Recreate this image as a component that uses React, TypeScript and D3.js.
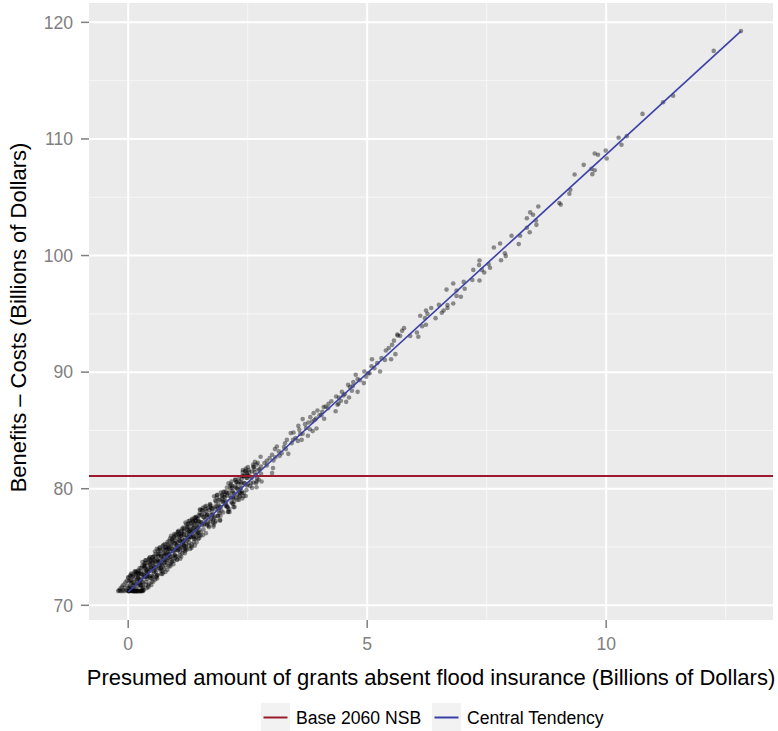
import React from "react";
import * as d3 from "d3";

// ---- data ----
const xTicks = [0, 5, 10];
const xMinor = [2.5, 7.5, 12.5];
const yTicks = [70, 80, 90, 100, 110, 120];
const yMinor = [75, 85, 95, 105, 115];
const xDomain = [-0.82, 13.49];
const yDomain = [68.74, 121.66];
const baseNSB = 81.1;
const centralX = [0, 12.82];
const centralY = [71.15, 119.25];
const legendLabels = ["Base 2060 NSB", "Central Tendency"];
const xTitle = "Presumed amount of grants absent flood insurance (Billions of Dollars)";
const yTitle = "Benefits \u2013 Costs (Billions of Dollars)";

// simulated draws near zero grants: [grants, net benefit]
const lowDraws: [number, number][] = [
  [-0.21,71.22],[-0.19,71.3],[-0.17,71.24],[-0.16,71.45],[-0.14,71.21],[-0.13,71.6],[-0.11,71.28],[-0.1,71.75],
  [-0.08,71.22],[-0.07,71.5],[-0.06,71.95],[-0.04,71.3],[-0.03,72.1],[-0.02,71.7],[-0.01,71.23],[0.0,72.4],
  [0.26,71.22],[0.28,71.25],[0.3,71.21],[0.32,71.3],[0.2,71.24],
  [0.005,72.35],[0.01,71.2],[0.015,71.45],[0.02,72.05],[0.025,71.22],[0.03,71.65],[0.035,71.25],[0.04,72.55],[0.045,71.3],
  [0.09,71.21],[0.065,72.14],[0.08,71.23],[0.055,71.54],[0.095,72.44],[0.07,71.26],[0.06,71.94],[0.085,71.28],[0.075,72.64],
  [0.125,72.23],[0.145,71.2],[0.105,72.53],[0.135,71.23],[0.115,71.93],[0.14,72.83],[0.12,71.22],[0.11,71.63],[0.13,71.25],
  [0.16,71.81],[0.185,72.81],[0.17,71.21],[0.195,72.31],[0.18,71.2],[0.155,72.61],[0.19,72.01],[0.175,71.41],[0.165,72.91],
  [0.23,71.2],[0.22,72.3],[0.24,73.2],[0.21,71.7],[0.235,72.7],[0.225,71.22],[0.245,71.9],[0.215,72.9],[0.205,72.4],
  [0.255,71.69],[0.26,72.89],[0.265,71.21],[0.27,72.29],[0.275,73.19],[0.28,71.49],[0.285,72.69],[0.29,71.99],[0.295,73.39],
  [0.325,72.38],[0.345,73.38],[0.305,71.68],[0.335,72.88],[0.315,71.28],[0.34,73.18],[0.32,72.58],[0.31,71.98],[0.33,73.48],
  [0.38,73.66],[0.37,71.76],[0.39,72.76],[0.36,73.36],[0.385,71.46],[0.375,72.96],[0.395,72.26],[0.365,73.86],[0.355,72.46],
  [0.44,71.85],[0.415,73.05],[0.43,73.95],[0.405,72.45],[0.445,73.45],[0.42,71.55],[0.41,72.65],[0.435,73.65],[0.425,73.15],
  [0.46,73.54],[0.485,71.74],[0.47,73.84],[0.495,72.54],[0.48,73.24],[0.455,74.14],[0.49,72.04],[0.475,72.94],[0.465,72.34],
  [0.505,73.13],[0.51,74.13],[0.515,72.43],[0.52,73.63],[0.525,72.03],[0.53,73.93],[0.535,73.33],[0.54,72.73],[0.545,74.23],
  [0.575,74.41],[0.595,72.51],[0.555,73.51],[0.585,74.11],[0.565,72.21],[0.59,73.71],[0.57,73.01],[0.56,74.61],[0.58,73.21],
  [0.61,72.6],[0.635,73.8],[0.62,74.7],[0.645,73.2],[0.63,74.2],[0.605,72.3],[0.64,73.4],[0.625,74.4],[0.615,73.9],
  [0.68,73.19],[0.67,74.39],[0.69,72.69],[0.66,73.79],[0.685,74.69],[0.675,72.99],[0.695,74.19],[0.665,73.49],[0.655,74.89],
  [0.74,74.48],[0.715,72.68],[0.73,74.78],[0.705,73.48],[0.745,74.18],[0.72,75.08],[0.71,72.98],[0.735,73.88],[0.725,73.28],
  [0.755,73.16],[0.76,74.36],[0.765,75.26],[0.77,73.76],[0.775,74.76],[0.78,72.86],[0.785,73.96],[0.79,74.96],[0.795,74.46],
  [0.83,74.85],[0.82,73.05],[0.84,75.15],[0.81,73.85],[0.835,74.55],[0.825,75.45],[0.845,73.35],[0.815,74.25],[0.805,73.65],
  [0.86,75.54],[0.885,73.64],[0.87,74.64],[0.895,75.24],[0.88,73.34],[0.855,74.84],[0.89,74.14],[0.875,75.74],[0.865,74.34],
  [0.94,74.63],[0.915,75.63],[0.93,73.93],[0.905,75.13],[0.945,73.53],[0.92,75.43],[0.91,74.83],[0.935,74.23],[0.925,75.73],
  [0.975,74.31],[0.995,75.51],[0.955,73.81],[0.985,74.91],[0.965,75.81],[0.99,74.11],[0.97,75.31],[0.96,74.61],[0.98,76.01],
  [1.005,76.1],[1.01,74.2],[1.015,75.2],[1.02,75.8],[1.025,73.9],[1.03,75.4],[1.035,74.7],[1.04,76.3],[1.045,74.9],
  [1.075,74.29],[1.095,75.49],[1.055,76.39],[1.085,74.89],[1.065,75.89],[1.09,73.99],[1.07,75.09],[1.06,76.09],[1.08,75.59],
  [1.105,75.98],[1.11,74.18],[1.115,76.28],[1.12,74.98],[1.125,75.68],[1.13,76.58],[1.135,74.48],[1.14,75.38],[1.145,74.78],
  [1.18,75.56],[1.17,76.56],[1.19,74.86],[1.16,76.06],[1.185,74.46],[1.175,76.36],[1.195,75.76],[1.165,75.16],[1.155,76.66],
  [1.21,75.25],[1.235,76.45],[1.22,74.75],[1.245,75.85],[1.23,76.75],[1.205,75.05],[1.24,76.25],[1.225,75.55],[1.215,76.95],
  [1.29,77.04],[1.265,75.14],[1.28,76.14],[1.255,76.74],[1.295,74.84],[1.27,76.34],[1.26,75.64],[1.285,77.24],[1.275,75.84],
  [1.33,75.23],[1.32,76.43],[1.34,77.33],[1.31,75.83],[1.335,76.83],[1.325,74.93],[1.345,76.03],[1.315,77.03],[1.305,76.53],
  [1.375,76.92],[1.395,75.12],[1.355,77.22],[1.385,75.92],[1.365,76.62],[1.39,77.52],[1.37,75.42],[1.36,76.32],[1.38,75.72],
  [1.41,76.5],[1.435,77.5],[1.42,75.8],[1.445,77.0],[1.43,75.4],[1.405,77.3],[1.44,76.7],[1.425,76.1],[1.415,77.6],
  [1.455,76.19],[1.46,77.39],[1.465,75.69],[1.47,76.79],[1.475,77.69],[1.48,75.99],[1.485,77.19],[1.49,76.49],[1.495,77.89]
];

// a second batch of draws in the dense band
const lowDraws2: [number, number][] = [
  [0.0875,71.93],[0.0125,71.22],[0.05,72.49],[0.0975,71.37],[0.0375,72.14],[0.075,71.24],[0.025,71.49],[0.0625,72.73],
  [0.15,71.37],[0.1975,72.55],[0.125,71.21],[0.1625,72.71],[0.1125,71.73],[0.1875,71.21],[0.1375,72.92],[0.175,72.16],
  [0.2125,73.0],[0.2375,71.79],[0.2625,72.68],[0.2875,71.28],[0.225,72.74],[0.25,72.14],[0.275,71.73],[0.2975,73.72],
  [0.3875,73.06],[0.3125,71.48],[0.35,73.62],[0.3975,72.5],[0.3375,73.27],[0.375,72.01],[0.325,72.62],[0.3625,73.86],
  [0.45,72.49],[0.4975,73.67],[0.425,71.69],[0.4625,73.83],[0.4125,72.85],[0.4875,72.33],[0.4375,74.04],[0.475,73.28],
  [0.5125,74.13],[0.5375,72.92],[0.5625,73.81],[0.5875,72.41],[0.525,73.87],[0.55,73.27],[0.575,72.86],[0.5975,74.85],
  [0.6875,74.18],[0.6125,72.6],[0.65,74.74],[0.6975,73.62],[0.6375,74.39],[0.675,73.13],[0.625,73.74],[0.6625,74.98],
  [0.75,73.62],[0.7975,74.8],[0.725,72.82],[0.7625,74.96],[0.7125,73.98],[0.7875,73.46],[0.7375,75.17],[0.775,74.41],
  [0.8125,75.25],[0.8375,74.04],[0.8625,74.93],[0.8875,73.53],[0.825,74.99],[0.85,74.39],[0.875,73.98],[0.8975,75.97],
  [0.9875,75.31],[0.9125,73.73],[0.95,75.87],[0.9975,74.75],[0.9375,75.52],[0.975,74.26],[0.925,74.87],[0.9625,76.11],
  [1.05,74.74],[1.0975,75.92],[1.025,73.94],[1.0625,76.08],[1.0125,75.1],[1.0875,74.58],[1.0375,76.29],[1.075,75.53],
  [1.1125,76.38],[1.1375,75.17],[1.1625,76.06],[1.1875,74.66],[1.125,76.12],[1.15,75.52],[1.175,75.11],[1.1975,77.1],
  [1.2875,76.43],[1.2125,74.85],[1.25,76.99],[1.2975,75.87],[1.2375,76.64],[1.275,75.38],[1.225,75.99],[1.2625,77.23],
  [1.35,75.87],[1.3975,77.05],[1.325,75.07],[1.3625,77.21],[1.3125,76.23],[1.3875,75.71],[1.3375,77.42],[1.375,76.66],
  [1.4125,77.5],[1.4375,76.29],[1.4625,77.18],[1.4875,75.78],[1.425,77.24],[1.45,76.64],[1.475,76.23],[1.4975,78.22],
  [1.5875,77.56],[1.5125,75.98],[1.55,78.12],[1.5975,77.0],[1.5375,77.77],[1.575,76.51],[1.525,77.12],[1.5625,78.36],
  [1.65,76.99],[1.6975,78.17],[1.625,76.19],[1.6625,78.33],[1.6125,77.35],[1.6875,76.83],[1.6375,78.54],[1.675,77.78],
  [1.7125,78.63],[1.7375,77.42],[1.7625,78.31],[1.7875,76.91],[1.725,78.37],[1.75,77.77],[1.775,77.36],[1.7975,79.35],
  [1.8875,78.68],[1.8125,77.1],[1.85,79.24],[1.8975,78.12],[1.8375,78.89],[1.875,77.63],[1.825,78.24],[1.8625,79.48],
  [1.95,78.12],[1.9975,79.3],[1.925,77.32],[1.9625,79.46],[1.9125,78.48],[1.9875,77.96],[1.9375,79.67],[1.975,78.91],
  [2.0125,79.75],[2.0375,78.54],[2.0625,79.43],[2.0875,78.03],[2.025,79.49],[2.05,78.89],[2.075,78.48],[2.0975,80.47],
  [2.1875,79.81],[2.1125,78.23],[2.15,80.37],[2.1975,79.25],[2.1375,80.02],[2.175,78.76],[2.125,79.37],[2.1625,80.61],
  [2.25,79.24],[2.2975,80.42],[2.225,78.44],[2.2625,80.58],[2.2125,79.6],[2.2875,79.08],[2.2375,80.79],[2.275,80.03],
  [2.3125,80.88],[2.3375,79.67],[2.3625,80.56],[2.3875,79.16],[2.325,80.62],[2.35,80.02],[2.375,79.61],[2.3975,81.6],
  [2.4875,80.93],[2.4125,79.35],[2.45,81.49],[2.4975,80.37],[2.4375,81.14],[2.475,79.88],[2.425,80.49],[2.4625,81.73]
];

const midDraws: [number, number][] = [
  [1.51,77.72],[1.52,76.26],[1.535,77.11],[1.55,78.17],[1.56,76.01],[1.575,77.56],[1.585,76.9],[1.595,77.84],
  [1.67,77.11],[1.62,78.23],[1.69,76.69],[1.64,77.7],[1.605,78.47],[1.655,76.86],[1.68,77.55],[1.63,78.06],
  [1.745,78.3],[1.785,76.75],[1.715,78.69],[1.765,77.77],[1.795,77.49],[1.725,78.52],[1.75,78.02],[1.775,77.11],
  [1.81,77.64],[1.82,78.98],[1.835,77.23],[1.85,78.49],[1.86,79.43],[1.875,77.68],[1.885,78.32],[1.895,79.06],
  [1.97,79.14],[1.92,77.26],[1.99,79.72],[1.94,78.43],[1.905,77.9],[1.955,79.39],[1.98,78.88],[1.93,77.69],
  [2.045,79.72],[2.085,78.37],[2.015,78.91],[2.065,80.09],[2.095,78.01],[2.025,79.24],[2.05,78.64],[2.075,79.63],
  [2.11,79.67],[2.12,78.01],[2.135,80.26],[2.15,79.22],[2.16,78.86],[2.175,80.21],[2.185,79.65],[2.195,78.69],
  [2.27,80.56],[2.22,78.88],[2.29,79.94],[2.24,80.75],[2.205,78.42],[2.255,80.11],[2.28,79.5],[2.23,80.21],
  [2.345,79.65],[2.385,81.1],[2.315,79.04],[2.365,80.42],[2.395,81.44],[2.325,79.37],[2.35,80.07],[2.375,80.86],
  [2.41,81.09],[2.42,79.63],[2.435,80.48],[2.45,81.54],[2.46,79.38],[2.475,80.93],[2.485,80.27],[2.495,81.21],
  [2.57,80.49],[2.52,81.61],[2.59,80.07],[2.54,81.08],[2.505,81.85],[2.555,80.24],[2.58,80.93],[2.53,81.44],
  [2.645,81.68],[2.685,80.13],[2.615,82.07],[2.665,81.15],[2.695,80.87],[2.625,81.9],[2.65,81.4],[2.675,80.49],
  [2.71,82.22],[2.73,80.79],[2.75,81.67],[2.77,82.74],[2.79,80.62],
  [2.69,80.62],[2.62,80.53],[2.34,79.33],[2.17,80.05],[2.38,79.76],[1.92,79.05],[1.82,78.47],[2.06,78.47],
  [2.2,79.19],[1.65,77.76],[1.72,77.19],[1.51,78.19],[1.54,76.9]
];

const highDraws: [number, number][] = [
  [2.41,81.05],[2.48,81.34],[2.59,81.48],[2.62,81.85],[2.69,82.07],[2.73,81.62],[2.78,81.9],[2.78,81.28],
  [2.85,82.2],[2.9,82.39],[2.96,82.62],[3.01,82.91],[3.01,81.34],[3.03,81.77],[3.04,82.42],[3.07,83.4],
  [3.11,83.62],[3.17,82.82],[3.21,83.05],[3.26,83.57],[3.32,84.19],[3.35,82.99],[3.4,84.77],[3.42,83.91],
  [3.46,84.82],[3.5,84.34],[3.56,85.39],[3.58,85.05],[3.63,84.19],[3.65,84.71],[3.65,85.97],[3.7,85.54],
  [3.76,84.54],[3.77,85.68],[3.81,86.14],[3.85,85.76],[3.86,84.94],[3.88,86.48],[3.93,86.02],[3.94,85.16],
  [3.96,86.71],[4.04,86.31],[4.06,86.6],[4.09,87.0],[4.13,87.05],[4.19,87.28],[4.34,86.65],[4.35,87.91],
  [4.38,87.2],[4.41,87.82],[4.45,87.54],[4.47,88.31],[4.53,88.11],[4.56,87.45],[4.6,88.91],[4.62,87.82],
  [4.64,88.71],[4.71,89.14],[4.76,89.77],[4.8,89.4],[4.8,88.31],[4.93,89.06],[4.94,90.05],[5.02,89.91],
  [5.09,90.51],[5.1,91.11],[5.15,90.34],[5.21,90.77],[5.27,90.05],[5.37,91.05],[5.39,91.85],[5.45,92.06],
  [5.5,91.11],[5.52,92.34],[5.56,92.7],[5.59,91.54],[5.64,93.14],
  [3.15,83.2],[3.28,83.9],[3.45,84.2],[3.6,84.7],[3.72,85.2],[3.9,85.9],[4.0,86.3],[4.18,86.9],
  [4.25,87.5],[4.5,88.0],[4.68,88.4],[4.85,89.3],[5.05,89.9],[5.3,91.2],[2.5,81.1],[2.65,82.3],
  [2.9,82.0],[3.08,82.7],[3.3,83.4],[3.55,84.1],[3.8,85.1],[4.1,86.0],[4.4,87.3],[4.7,88.8],[4.98,89.6],
  [5.63,93.23],[5.69,93.11],[5.73,93.54],[5.77,93.77],[5.9,93.1],[6.04,93.4],[6.07,93.03],[6.11,94.83],
  [6.15,93.94],[6.21,94.63],[6.23,94.06],[6.23,95.28],[6.26,95.0],[6.34,95.5],[6.43,94.63],[6.5,95.77],
  [6.56,95.09],[6.6,95.28],[6.66,97.08],[6.68,95.75],[6.68,95.5],[6.8,97.6],[6.8,95.88],[6.87,97.0],
  [6.87,96.54],[6.96,96.46],[7.02,97.74],[7.04,97.15],[7.2,97.9],[7.22,98.77],[7.34,99.18],[7.35,99.57],
  [7.35,97.86],[7.4,98.77],[7.45,98.54],[7.54,99.26],[7.57,98.95],[7.65,100.69],[7.78,101.03],[7.8,99.6],
  [7.88,100.2],[7.9,99.95],[8.02,101.7],[8.17,100.98],[8.2,101.7],[8.34,103.2],[8.34,102.38],[8.4,102.0],
  [8.41,103.7],[8.47,103.5],[8.53,103.0],[8.54,102.63],[8.58,104.2],
  [9.02,104.5],[9.05,104.37],[9.23,105.3],[9.25,105.64],[9.34,106.95],[9.53,107.78],[9.69,107.43],
  [9.71,106.98],[9.76,107.32],[9.76,108.75],[9.83,108.64],[9.99,109.0],[10.01,108.32],[10.26,110.1],
  [10.32,109.5],[10.43,110.24],[10.76,112.15],[11.19,113.15],[11.4,113.7],[12.25,117.55],[12.82,119.25]
];

const W = 778;
const H = 731;
const panel = { left: 89, right: 773, top: 3, bottom: 620 };
const FONT = "'Liberation Sans', Arial, Helvetica, sans-serif";
const RED = "#9B1B2C";
const BLUE = "#3A41A6";

export default function App() {
  React.useEffect(() => {
    document.body.style.margin = "0";
  }, []);
  const x = d3.scaleLinear().domain(xDomain).range([panel.left, panel.right]);
  const y = d3.scaleLinear().domain(yDomain).range([panel.bottom, panel.top]);
  const line = d3
    .line<number>()
    .x((d) => x(centralX[d]))
    .y((d) => y(centralY[d]));
  const allDraws = [...lowDraws, ...lowDraws2, ...midDraws, ...highDraws];
  const cx = (panel.left + panel.right) / 2;
  const cy = (panel.top + panel.bottom) / 2;
  const legendKeyX = [261, 432];
  const legendColors = [RED, BLUE];

  return (
    <svg width={W} height={H} style={{ display: "block", background: "#fff" }} fontFamily={FONT}>
      <rect x={panel.left} y={panel.top} width={panel.right - panel.left} height={panel.bottom - panel.top} fill="#EBEBEB" />
      <g>
        {xMinor.map((t) => (
          <line key={"xm" + t} x1={x(t)} x2={x(t)} y1={panel.top} y2={panel.bottom} stroke="#F7F7F7" strokeWidth={1} />
        ))}
        {yMinor.map((t) => (
          <line key={"ym" + t} y1={y(t)} y2={y(t)} x1={panel.left} x2={panel.right} stroke="#F7F7F7" strokeWidth={1} />
        ))}
        {xTicks.map((t) => (
          <line key={"xM" + t} x1={x(t)} x2={x(t)} y1={panel.top} y2={panel.bottom} stroke="#FFFFFF" strokeWidth={2} />
        ))}
        {yTicks.map((t) => (
          <line key={"yM" + t} y1={y(t)} y2={y(t)} x1={panel.left} x2={panel.right} stroke="#FFFFFF" strokeWidth={2} />
        ))}
      </g>
      <g>
        {allDraws.map((d, i) => (
          <circle key={i} cx={x(d[0])} cy={y(d[1])} r={2.3} fill="#000" fillOpacity={0.42} />
        ))}
      </g>
      <line x1={panel.left} x2={panel.right} y1={y(baseNSB)} y2={y(baseNSB)} stroke={RED} strokeWidth={2} />
      <path d={line([0, 1]) || ""} stroke={BLUE} strokeWidth={1.6} fill="none" />
      {/* axes */}
      <g>
        {yTicks.map((t) => (
          <g key={"yt" + t}>
            <line x1={panel.left - 8} x2={panel.left} y1={y(t)} y2={y(t)} stroke="#7F7F7F" strokeWidth={1.5} />
            <text x={panel.left - 16} y={y(t)} dy="0.36em" textAnchor="end" fontSize={17.6} fill="#7F7F7F">
              {t}
            </text>
          </g>
        ))}
        {xTicks.map((t) => (
          <g key={"xt" + t}>
            <line x1={x(t)} x2={x(t)} y1={panel.bottom} y2={panel.bottom + 8} stroke="#7F7F7F" strokeWidth={1.5} />
            <text x={x(t)} y={649.5} textAnchor="middle" fontSize={17.6} fill="#7F7F7F">
              {t}
            </text>
          </g>
        ))}
      </g>
      <text x={cx} y={684.5} textAnchor="middle" fontSize={22} fill="#000">
        {xTitle}
      </text>
      <text transform={`translate(26,${cy + 6}) rotate(-90)`} textAnchor="middle" fontSize={22} fill="#000">
        {yTitle}
      </text>
      {/* legend */}
      <g>
        {legendLabels.map((lab, i) => (
          <g key={lab}>
            <rect x={legendKeyX[i]} y={703} width={29} height={29} fill="#F2F2F2" />
            <line x1={legendKeyX[i] + 2.5} x2={legendKeyX[i] + 26.5} y1={717.5} y2={717.5} stroke={legendColors[i]} strokeWidth={2} />
            <text x={legendKeyX[i] + 35} y={723.5} fontSize={17.6} fill="#000">
              {lab}
            </text>
          </g>
        ))}
      </g>
    </svg>
  );
}
